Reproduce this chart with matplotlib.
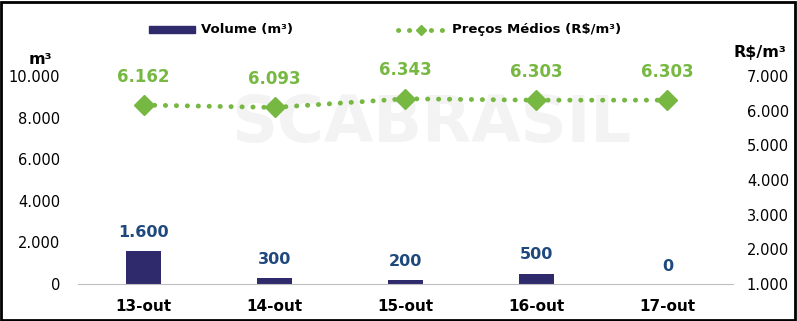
import matplotlib
matplotlib.use("Agg")
import matplotlib.pyplot as plt
from matplotlib.patches import Rectangle
from matplotlib.lines import Line2D

categories = ["13-out", "14-out", "15-out", "16-out", "17-out"]
volume = [1600, 300, 200, 500, 0]
prices = [6162, 6093, 6343, 6303, 6303]

def fmt(v):
    return f"{v:,.0f}".replace(",", ".")

W, H = 797, 321
fig = plt.figure(figsize=(W/100, H/100), dpi=100)
plt.rcParams['font.family'] = ['DejaVu Sans']

ax = fig.add_axes([78/W, 1-284/H, (733-78)/W, (284-76)/H])
ax2 = ax.twinx()

x = list(range(len(categories)))
bar_color = "#2E2A6B"
green = "#77B843"
label_blue = "#1F497D"
dots = (0, (0.05, 2.2))

ax.text(0.54, 0.77, "SCABRASIL", transform=ax.transAxes, fontsize=46, fontweight='bold',
        color='#F3F3F3', ha='center', va='center', zorder=0)

ax.bar(x, volume, width=0.27, color=bar_color, zorder=2)
ax.set_xlim(-0.5, 4.5)
ax.set_ylim(0, 10000)
ax.set_yticks([0, 2000, 4000, 6000, 8000, 10000])
ax.set_yticklabels([fmt(v) for v in [0, 2000, 4000, 6000, 8000, 10000]], fontsize=10.5)
ax.tick_params(axis='y', length=0, pad=13)
ax.set_xticks(x)
ax.set_xticklabels(categories, fontsize=11, fontweight='bold')
ax.tick_params(axis='x', length=0, pad=11)
for s in ['top', 'left', 'right']:
    ax.spines[s].set_visible(False)
ax.spines['bottom'].set_color('#BFBFBF')
for xi, v in zip(x, volume):
    ax.annotate(fmt(v), (xi, v), xytext=(0, 8 if v > 0 else 7), textcoords='offset points',
                ha='center', va='bottom', fontsize=11.5, fontweight='bold', color=label_blue)

ax2.plot(x, prices, linestyle=dots, linewidth=3.5, color=green,
         marker='D', markersize=10, dash_capstyle='round', zorder=3)
ax2.set_ylim(1000, 7000)
ax2.set_yticks([1000, 2000, 3000, 4000, 5000, 6000, 7000])
ax2.set_yticklabels([fmt(v) for v in [1000, 2000, 3000, 4000, 5000, 6000, 7000]], fontsize=10.5)
ax2.tick_params(axis='y', length=0, pad=10)
for s in ['top', 'left', 'right', 'bottom']:
    ax2.spines[s].set_visible(False)
for xi, v in zip(x, prices):
    ax2.annotate(fmt(v), (xi, v), xytext=(0, 14), textcoords='offset points',
                 ha='center', va='bottom', fontsize=12, fontweight='bold', color=green)

# axis titles
fig.text(40/W, 1-60/H, "m³", fontsize=11.5, fontweight='bold', ha='center', va='center')
fig.text(760/W, 1-52/H, "R$/m³", fontsize=11.5, fontweight='bold', ha='center', va='center')

# legend
fig.patches.append(Rectangle((149/W, 1-33/H), 46/W, 7/H, transform=fig.transFigure,
                             color=bar_color, zorder=5))
fig.text(201/W, 1-30/H, "Volume (m³)", fontsize=9.5, fontweight='bold', ha='left', va='center')
fig.lines.append(Line2D([398/W, 445/W], [1-30/H, 1-30/H], transform=fig.transFigure,
                        linestyle=dots, linewidth=3.5, color=green,
                        dash_capstyle='round'))
fig.lines.append(Line2D([421/W], [1-30/H], transform=fig.transFigure, marker='D',
                        markersize=5, color=green))
fig.text(452/W, 1-30/H, "Preços Médios (R$/m³)", fontsize=9.5, fontweight='bold', ha='left', va='center')

# border
fig.patches.append(Rectangle((1/W, 1/H), (W-3)/W, (H-3)/H, transform=fig.transFigure,
                             fill=False, edgecolor='black', linewidth=2))

fig.savefig("out.png", dpi=100)
